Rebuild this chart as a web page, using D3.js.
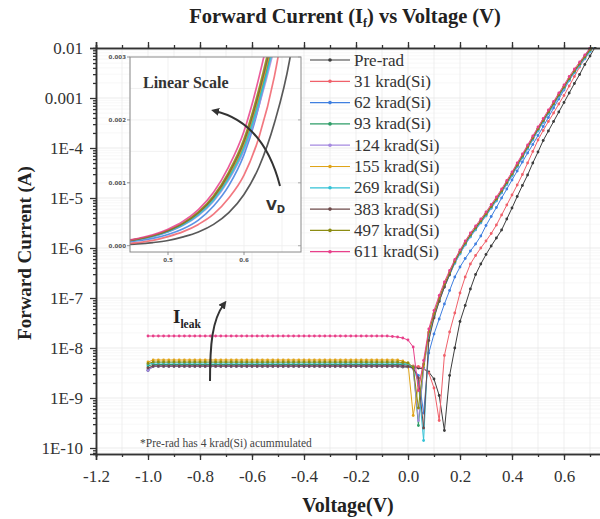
<!DOCTYPE html>
<html>
<head>
<meta charset="utf-8">
<script src="https://cdn.jsdelivr.net/npm/d3@7"></script>
<style>
  body { margin: 0; background: #fff; }
  svg { display: block; font-family: "Liberation Serif", "Times New Roman", serif; }
</style>
</head>
<body>
<div id="chart"></div>
<script>
// bias voltage (V), shared by all curves
const voltage = [
  -1.00,-0.98,-0.96,-0.94,-0.92,-0.90,-0.88,-0.86,-0.84,-0.82,
  -0.80,-0.78,-0.76,-0.74,-0.72,-0.70,-0.68,-0.66,-0.64,-0.62,
  -0.60,-0.58,-0.56,-0.54,-0.52,-0.50,-0.48,-0.46,-0.44,-0.42,
  -0.40,-0.38,-0.36,-0.34,-0.32,-0.30,-0.28,-0.26,-0.24,-0.22,
  -0.20,-0.18,-0.16,-0.14,-0.12,-0.10,-0.08,-0.06,-0.04,-0.02,
  0.00,0.02,0.04,0.06,0.08,0.10,0.12,0.14,0.16,0.18,
  0.20,0.22,0.24,0.26,0.28,0.30,0.32,0.34,0.36,0.38,
  0.40,0.42,0.44,0.46,0.48,0.50,0.52,0.54,0.56,0.58,
  0.60,0.62,0.64,0.66,0.68,0.70,0.72
];

// log10 of |forward current| (A) for each dose
const preRad = [
  -8.45,-8.37,-8.37,-8.37,-8.37,-8.37,-8.37,-8.37,-8.37,-8.37,
  -8.37,-8.37,-8.37,-8.37,-8.37,-8.37,-8.37,-8.37,-8.37,-8.37,
  -8.37,-8.37,-8.37,-8.37,-8.37,-8.37,-8.37,-8.37,-8.37,-8.37,
  -8.37,-8.37,-8.37,-8.37,-8.37,-8.37,-8.37,-8.37,-8.37,-8.37,
  -8.37,-8.37,-8.37,-8.37,-8.37,-8.37,-8.37,-8.37,-8.37,-8.38,
  -8.38,-8.39,-8.40,-8.42,-8.48,-8.62,-8.95,-9.65,-8.55,-8.00,
  -7.47,-7.15,-6.82,-6.53,-6.32,-6.13,-5.96,-5.80,-5.64,-5.42,
  -5.20,-4.97,-4.75,-4.54,-4.30,-4.08,-3.85,-3.66,-3.47,-3.28,
  -3.09,-2.90,-2.71,-2.53,-2.33,-2.16,-1.98
];
const krad31 = [
  -8.40,-8.36,-8.36,-8.36,-8.36,-8.36,-8.36,-8.36,-8.36,-8.36,
  -8.36,-8.36,-8.36,-8.36,-8.36,-8.36,-8.36,-8.36,-8.36,-8.36,
  -8.36,-8.36,-8.36,-8.36,-8.36,-8.36,-8.36,-8.36,-8.36,-8.36,
  -8.36,-8.36,-8.36,-8.36,-8.36,-8.36,-8.36,-8.36,-8.36,-8.36,
  -8.36,-8.36,-8.36,-8.36,-8.36,-8.36,-8.36,-8.36,-8.36,-8.36,
  -8.36,-8.36,-8.37,-8.40,-8.50,-8.80,-9.45,-8.15,-7.68,-7.30,
  -6.90,-6.58,-6.32,-6.15,-6.00,-5.86,-5.71,-5.54,-5.34,-5.14,
  -4.94,-4.74,-4.53,-4.30,-4.07,-3.84,-3.65,-3.47,-3.30,-3.12,
  -2.95,-2.76,-2.57,-2.38,-2.21,-2.04,-1.88
];
const krad62 = [
  -8.44,-8.36,-8.36,-8.36,-8.36,-8.36,-8.36,-8.36,-8.36,-8.36,
  -8.36,-8.36,-8.36,-8.36,-8.36,-8.36,-8.36,-8.36,-8.36,-8.36,
  -8.36,-8.36,-8.36,-8.36,-8.36,-8.36,-8.36,-8.36,-8.36,-8.36,
  -8.36,-8.36,-8.36,-8.36,-8.36,-8.36,-8.36,-8.36,-8.36,-8.36,
  -8.36,-8.36,-8.36,-8.36,-8.36,-8.36,-8.36,-8.36,-8.36,-8.36,
  -8.37,-8.40,-8.55,-9.30,-8.10,-7.72,-7.42,-7.12,-6.85,-6.58,
  -6.38,-6.21,-6.06,-5.92,-5.76,-5.55,-5.37,-5.19,-5.00,-4.82,
  -4.64,-4.46,-4.28,-4.10,-3.93,-3.75,-3.57,-3.39,-3.20,-3.02,
  -2.84,-2.65,-2.47,-2.31,-2.16,-2.00,-1.85
];
const krad93 = [
  -8.36,-8.33,-8.33,-8.33,-8.33,-8.33,-8.33,-8.33,-8.33,-8.33,
  -8.33,-8.33,-8.33,-8.33,-8.33,-8.33,-8.33,-8.33,-8.33,-8.33,
  -8.33,-8.33,-8.33,-8.33,-8.33,-8.33,-8.33,-8.33,-8.33,-8.33,
  -8.33,-8.33,-8.33,-8.33,-8.33,-8.33,-8.33,-8.33,-8.33,-8.33,
  -8.33,-8.33,-8.33,-8.33,-8.33,-8.33,-8.33,-8.33,-8.33,-8.33,
  -8.34,-8.40,-9.55,-8.40,-7.72,-7.35,-7.04,-6.76,-6.52,-6.29,
  -6.10,-5.92,-5.76,-5.62,-5.48,-5.34,-5.19,-5.04,-4.88,-4.71,
  -4.54,-4.36,-4.18,-4.00,-3.82,-3.64,-3.47,-3.30,-3.13,-2.96,
  -2.80,-2.63,-2.48,-2.34,-2.20,-2.06,-1.92
];
const krad124 = [
  -8.45,-8.36,-8.36,-8.36,-8.36,-8.36,-8.36,-8.36,-8.36,-8.36,
  -8.36,-8.36,-8.36,-8.36,-8.36,-8.36,-8.36,-8.36,-8.36,-8.36,
  -8.36,-8.36,-8.36,-8.36,-8.36,-8.36,-8.36,-8.36,-8.36,-8.36,
  -8.36,-8.36,-8.36,-8.36,-8.36,-8.36,-8.36,-8.36,-8.36,-8.36,
  -8.36,-8.36,-8.36,-8.36,-8.36,-8.36,-8.36,-8.36,-8.36,-8.36,
  -8.37,-8.42,-9.45,-8.42,-7.75,-7.37,-7.06,-6.78,-6.54,-6.31,
  -6.12,-5.94,-5.78,-5.64,-5.50,-5.36,-5.21,-5.06,-4.90,-4.73,
  -4.56,-4.38,-4.20,-4.02,-3.84,-3.66,-3.49,-3.32,-3.15,-2.98,
  -2.82,-2.65,-2.50,-2.36,-2.22,-2.08,-1.94
];
const krad155 = [
  -8.28,-8.24,-8.24,-8.24,-8.24,-8.24,-8.24,-8.24,-8.24,-8.24,
  -8.24,-8.24,-8.24,-8.24,-8.24,-8.24,-8.24,-8.24,-8.24,-8.24,
  -8.24,-8.24,-8.24,-8.24,-8.24,-8.24,-8.24,-8.24,-8.24,-8.24,
  -8.24,-8.24,-8.24,-8.24,-8.24,-8.24,-8.24,-8.24,-8.24,-8.24,
  -8.24,-8.24,-8.24,-8.24,-8.24,-8.24,-8.24,-8.24,-8.24,-8.26,
  -8.30,-9.35,-8.75,-8.35,-7.70,-7.33,-7.02,-6.74,-6.51,-6.28,
  -6.09,-5.91,-5.75,-5.61,-5.47,-5.33,-5.18,-5.03,-4.87,-4.70,
  -4.53,-4.35,-4.17,-3.99,-3.81,-3.63,-3.46,-3.29,-3.12,-2.95,
  -2.79,-2.62,-2.47,-2.33,-2.19,-2.05,-1.91
];
const krad269 = [
  -8.33,-8.30,-8.30,-8.30,-8.30,-8.30,-8.30,-8.30,-8.30,-8.30,
  -8.30,-8.30,-8.30,-8.30,-8.30,-8.30,-8.30,-8.30,-8.30,-8.30,
  -8.30,-8.30,-8.30,-8.30,-8.30,-8.30,-8.30,-8.30,-8.30,-8.30,
  -8.30,-8.30,-8.30,-8.30,-8.30,-8.30,-8.30,-8.30,-8.30,-8.30,
  -8.30,-8.30,-8.30,-8.30,-8.30,-8.30,-8.30,-8.30,-8.30,-8.31,
  -8.32,-8.38,-8.70,-9.85,-7.80,-7.38,-7.06,-6.78,-6.54,-6.30,
  -6.11,-5.93,-5.77,-5.63,-5.49,-5.35,-5.20,-5.05,-4.89,-4.72,
  -4.55,-4.37,-4.19,-4.01,-3.83,-3.65,-3.48,-3.31,-3.14,-2.97,
  -2.81,-2.64,-2.49,-2.35,-2.21,-2.07,-1.93
];
const krad383 = [
  -8.40,-8.36,-8.36,-8.36,-8.36,-8.36,-8.36,-8.36,-8.36,-8.36,
  -8.36,-8.36,-8.36,-8.36,-8.36,-8.36,-8.36,-8.36,-8.36,-8.36,
  -8.36,-8.36,-8.36,-8.36,-8.36,-8.36,-8.36,-8.36,-8.36,-8.36,
  -8.36,-8.36,-8.36,-8.36,-8.36,-8.36,-8.36,-8.36,-8.36,-8.36,
  -8.36,-8.36,-8.36,-8.36,-8.36,-8.36,-8.36,-8.36,-8.36,-8.36,
  -8.37,-8.40,-8.60,-9.60,-7.85,-7.40,-7.07,-6.78,-6.53,-6.27,
  -6.08,-5.90,-5.74,-5.60,-5.46,-5.32,-5.17,-5.02,-4.86,-4.69,
  -4.52,-4.34,-4.16,-3.98,-3.80,-3.62,-3.45,-3.28,-3.11,-2.94,
  -2.78,-2.61,-2.46,-2.32,-2.18,-2.04,-1.90
];
const krad497 = [
  -8.31,-8.28,-8.28,-8.28,-8.28,-8.28,-8.28,-8.28,-8.28,-8.28,
  -8.28,-8.28,-8.28,-8.28,-8.28,-8.28,-8.28,-8.28,-8.28,-8.28,
  -8.28,-8.28,-8.28,-8.28,-8.28,-8.28,-8.28,-8.28,-8.28,-8.28,
  -8.28,-8.28,-8.28,-8.28,-8.28,-8.28,-8.28,-8.28,-8.28,-8.28,
  -8.28,-8.28,-8.28,-8.28,-8.28,-8.28,-8.28,-8.28,-8.28,-8.29,
  -8.30,-8.38,-9.20,-8.32,-7.68,-7.31,-7.00,-6.72,-6.49,-6.26,
  -6.07,-5.89,-5.73,-5.59,-5.45,-5.31,-5.16,-5.01,-4.85,-4.68,
  -4.51,-4.33,-4.15,-3.97,-3.79,-3.61,-3.44,-3.27,-3.10,-2.93,
  -2.77,-2.60,-2.45,-2.31,-2.17,-2.03,-1.89
];
const krad611 = [
  -7.76,-7.76,-7.76,-7.76,-7.76,-7.76,-7.76,-7.76,-7.76,-7.76,
  -7.76,-7.76,-7.76,-7.76,-7.76,-7.76,-7.76,-7.76,-7.76,-7.76,
  -7.76,-7.76,-7.76,-7.76,-7.76,-7.76,-7.76,-7.76,-7.76,-7.76,
  -7.76,-7.76,-7.76,-7.76,-7.76,-7.76,-7.76,-7.76,-7.76,-7.76,
  -7.76,-7.76,-7.76,-7.76,-7.76,-7.76,-7.76,-7.77,-7.78,-7.80,
  -7.84,-7.98,-8.85,-8.25,-7.62,-7.25,-6.95,-6.68,-6.45,-6.23,
  -6.04,-5.86,-5.70,-5.56,-5.42,-5.28,-5.13,-4.98,-4.82,-4.65,
  -4.48,-4.30,-4.12,-3.94,-3.76,-3.58,-3.41,-3.24,-3.07,-2.90,
  -2.74,-2.57,-2.42,-2.28,-2.14,-2.00,-1.86
];

const seriesNames = ["Pre-rad", "31 krad(Si)", "62 krad(Si)", "93 krad(Si)", "124 krad(Si)",
  "155 krad(Si)", "269 krad(Si)", "383 krad(Si)", "497 krad(Si)", "611 krad(Si)"];
const seriesValues = [preRad, krad31, krad62, krad93, krad124, krad155, krad269, krad383, krad497, krad611];
const seriesColors = ["#3c3c3c", "#f0606a", "#3f7fe0", "#2e9e68", "#a58ae0",
  "#e0a418", "#33c2d6", "#6e4b4b", "#8c8c12", "#e8408a"];

const xTicks = [-1.2, -1.0, -0.8, -0.6, -0.4, -0.2, 0.0, 0.2, 0.4, 0.6];
const xTickLabels = ["-1.2", "-1.0", "-0.8", "-0.6", "-0.4", "-0.2", "0.0", "0.2", "0.4", "0.6"];
const yTicks = [1e-2, 1e-3, 1e-4, 1e-5, 1e-6, 1e-7, 1e-8, 1e-9, 1e-10];
const yTickLabels = ["0.01", "0.001", "1E-4", "1E-5", "1E-6", "1E-7", "1E-8", "1E-9", "1E-10"];

const insetXTicks = [0.5, 0.6];
const insetXTickLabels = ["0.5", "0.6"];
const insetYTicks = [0, 0.001, 0.002, 0.003];
const insetYTickLabels = ["0.000", "0.001", "0.002", "0.003"];

const SERIF = "Liberation Serif, Times New Roman, serif";
const W = 600, H = 519;
const svg = d3.select("#chart").append("svg").attr("width", W).attr("height", H);

const pL = 96, pR = 616, pT = 48, pB = 454;
const x = d3.scaleLinear().domain([-1.2, 0.8]).range([pL, pR]);
const y = d3.scaleLog().domain([Math.pow(10, -10.12), 0.01]).range([pB, pT]);

const series = seriesValues.map((vals, i) => ({
  name: seriesNames[i],
  color: seriesColors[i],
  points: vals.map((lv, k) => ({ v: voltage[k], i: Math.pow(10, lv) }))
}));

// clip
const defs = svg.append("defs");
defs.append("clipPath").attr("id", "plotClip").append("rect")
  .attr("x", pL).attr("y", pT - 1).attr("width", pR - pL).attr("height", pB - pT + 1);

// grid
const xMinor = d3.range(-1.2, 0.801, 0.1);
const yMinor = [];
for (let e = -11; e <= -3; e++) for (let m = 2; m <= 9; m++) {
  const val = m * Math.pow(10, e);
  if (val > y.domain()[0] && val < 0.01) yMinor.push(val);
}
const grid = svg.append("g");
grid.selectAll(".gyminor").data(yMinor).join("line")
  .attr("x1", pL).attr("x2", pR).attr("y1", d => y(d)).attr("y2", d => y(d))
  .attr("stroke", "#f3f3f3").attr("stroke-width", 0.7);
grid.selectAll(".gx").data(xMinor).join("line")
  .attr("y1", pT).attr("y2", pB).attr("x1", d => x(d)).attr("x2", d => x(d))
  .attr("stroke", "#ebebeb").attr("stroke-width", 0.8);
grid.selectAll(".gy").data(yTicks).join("line")
  .attr("x1", pL).attr("x2", pR).attr("y1", d => y(d)).attr("y2", d => y(d))
  .attr("stroke", "#e6e6e6").attr("stroke-width", 0.8);

// curves with markers
const line = d3.line().x(d => x(d.v)).y(d => y(d.i));
const plot = svg.append("g").attr("clip-path", "url(#plotClip)");
series.forEach(s => {
  plot.append("path").datum(s.points)
    .attr("fill", "none").attr("stroke", s.color).attr("stroke-width", 1)
    .attr("d", line);
  plot.append("g").selectAll("circle").data(s.points).join("circle")
    .attr("cx", d => x(d.v)).attr("cy", d => y(d.i)).attr("r", 1.4)
    .attr("fill", s.color);
});

// axes
function styleAxis(g) {
  g.attr("font-family", SERIF);
  g.select(".domain").attr("stroke", "#333").attr("stroke-width", 1.5);
  g.selectAll(".tick line").attr("stroke", "#333").attr("stroke-width", 1.3);
  g.selectAll(".tick text").attr("fill", "#333").attr("font-size", 17).attr("font-family", SERIF);
}
svg.append("g").attr("transform", `translate(0,${pB})`)
  .call(d3.axisBottom(x).tickValues(xTicks).tickFormat((d, i) => xTickLabels[i]).tickSize(6).tickPadding(10))
  .call(styleAxis);
svg.append("g").attr("transform", `translate(0,${pB})`)
  .call(d3.axisBottom(x).tickValues(xMinor).tickFormat("").tickSize(3))
  .call(styleAxis);
svg.append("g").attr("transform", `translate(0,${pT})`)
  .call(d3.axisTop(x).tickValues(xTicks).tickFormat("").tickSize(6))
  .call(styleAxis);
svg.append("g").attr("transform", `translate(0,${pT})`)
  .call(d3.axisTop(x).tickValues(xMinor).tickFormat("").tickSize(3))
  .call(styleAxis);
svg.append("g").attr("transform", `translate(${pL},0)`)
  .call(d3.axisLeft(y).tickValues(yTicks).tickFormat((d, i) => yTickLabels[i]).tickSize(6).tickPadding(7))
  .call(styleAxis);
svg.append("g").attr("transform", `translate(${pL},0)`)
  .call(d3.axisLeft(y).tickValues(yMinor).tickFormat("").tickSize(3))
  .call(styleAxis);

// inset, linear scale
const iL = 130, iR = 301, iT = 57, iB = 252;
const xi = d3.scaleLinear().domain([0.45, 0.675]).range([iL, iR]);
const yi = d3.scaleLinear().domain([-0.0001, 0.003]).range([iB, iT]);
const inset = svg.append("g");
inset.append("rect").attr("x", iL).attr("y", iT).attr("width", iR - iL).attr("height", iB - iT)
  .attr("fill", "#fff");
defs.append("clipPath").attr("id", "insetClip").append("rect")
  .attr("x", iL).attr("y", iT).attr("width", iR - iL).attr("height", iB - iT);
const insetGridX = [0.45, 0.5, 0.55, 0.6, 0.65];
const insetGridY = [0, 0.0005, 0.001, 0.0015, 0.002, 0.0025];
inset.selectAll(".igx").data(insetGridX).join("line")
  .attr("x1", d => xi(d)).attr("x2", d => xi(d)).attr("y1", iT).attr("y2", iB)
  .attr("stroke", "#eeeeee").attr("stroke-width", 0.8);
inset.selectAll(".igy").data(insetGridY).join("line")
  .attr("y1", d => yi(d)).attr("y2", d => yi(d)).attr("x1", iL).attr("x2", iR)
  .attr("stroke", "#eeeeee").attr("stroke-width", 0.8);
const iline = d3.line().curve(d3.curveMonotoneX).x(d => xi(d.v)).y(d => yi(d.i));
const insetCurves = inset.append("g").attr("clip-path", "url(#insetClip)");
series.forEach(s => {
  insetCurves.append("path").datum(s.points.filter(d => d.v >= 0.42))
    .attr("fill", "none").attr("stroke", s.color).attr("stroke-width", 1.7).attr("stroke-opacity", 0.85)
    .attr("d", iline);
});
inset.append("rect").attr("x", iL).attr("y", iT).attr("width", iR - iL).attr("height", iB - iT)
  .attr("fill", "none").attr("stroke", "#8a8a8a").attr("stroke-width", 1);
const iax = inset.append("g").attr("font-family", "DejaVu Sans, sans-serif").attr("fill", "#555");
iax.selectAll(".iyt").data(insetYTicks).join("line")
  .attr("x1", iL - 3).attr("x2", iL).attr("y1", d => yi(d)).attr("y2", d => yi(d))
  .attr("stroke", "#777").attr("stroke-width", 0.8);
iax.selectAll(".iytr").data(insetYTicks).join("line")
  .attr("x1", iR - 3).attr("x2", iR).attr("y1", d => yi(d)).attr("y2", d => yi(d))
  .attr("stroke", "#999").attr("stroke-width", 0.8);
iax.selectAll(".iyl").data(insetYTicks).join("text")
  .attr("x", iL - 4).attr("y", d => yi(d) + 2).attr("text-anchor", "end")
  .attr("font-size", 5.5).attr("font-weight", "bold").text((d, i) => insetYTickLabels[i]);
iax.selectAll(".ixt").data(insetXTicks).join("line")
  .attr("x1", d => xi(d)).attr("x2", d => xi(d)).attr("y1", iB).attr("y2", iB + 3)
  .attr("stroke", "#777").attr("stroke-width", 0.8);
iax.selectAll(".ixl").data(insetXTicks).join("text")
  .attr("x", d => xi(d)).attr("y", iB + 10).attr("text-anchor", "middle")
  .attr("font-size", 5.5).attr("font-weight", "bold").text((d, i) => insetXTickLabels[i]);

inset.append("text").attr("x", 143).attr("y", 88).attr("font-family", SERIF)
  .attr("font-size", 16).attr("font-weight", "bold").attr("fill", "#333").text("Linear Scale");

// arrows
defs.append("marker").attr("id", "arrow").attr("viewBox", "0 0 10 10")
  .attr("refX", 5).attr("refY", 5).attr("markerWidth", 4).attr("markerHeight", 4)
  .attr("orient", "auto-start-reverse")
  .append("path").attr("d", "M0,0 L10,5 L0,10 z").attr("fill", "#333");
svg.append("path").attr("d", "M280,186 Q263.5,122.5 215,111")
  .attr("fill", "none").attr("stroke", "#333").attr("stroke-width", 2).attr("marker-end", "url(#arrow)");
const vd = svg.append("text").attr("x", 266).attr("y", 210).attr("font-family", "DejaVu Sans, sans-serif")
  .attr("font-weight", "bold").attr("fill", "#333").attr("font-size", 14);
vd.append("tspan").text("V");
vd.append("tspan").attr("dy", 3).attr("font-size", 10).text("D");

svg.append("path").attr("d", "M210,381 C210,345 212,320 224,304")
  .attr("fill", "none").attr("stroke", "#333").attr("stroke-width", 2).attr("marker-end", "url(#arrow)");
const il = svg.append("text").attr("x", 173).attr("y", 323).attr("font-family", SERIF)
  .attr("font-weight", "bold").attr("fill", "#222").attr("font-size", 19);
il.append("tspan").text("I");
il.append("tspan").attr("dy", 5).attr("font-size", 11.5).text("leak");

svg.append("text").attr("x", 140).attr("y", 447).attr("font-family", SERIF)
  .attr("font-size", 11.5).attr("fill", "#444").text("*Pre-rad has 4 krad(Si) acummulated");

// legend
const legend = svg.append("g").attr("font-family", SERIF);
series.forEach((s, i) => {
  const ly = 60 + i * 21.3;
  legend.append("line").attr("x1", 310).attr("x2", 350).attr("y1", ly).attr("y2", ly)
    .attr("stroke", s.color).attr("stroke-width", 1.2);
  legend.append("circle").attr("cx", 330).attr("cy", ly).attr("r", 1.8).attr("fill", s.color);
  legend.append("text").attr("x", 354).attr("y", ly + 5.5).attr("font-size", 17)
    .attr("fill", "#333").text(s.name);
});

// titles
const title = svg.append("text").attr("x", 345).attr("y", 23).attr("text-anchor", "middle")
  .attr("font-family", SERIF).attr("font-size", 20.5).attr("font-weight", "bold").attr("fill", "#222");
title.append("tspan").text("Forward Current (I");
title.append("tspan").attr("dy", 4).attr("font-size", 12).text("f");
title.append("tspan").attr("dy", -4).text(") vs Voltage (V)");

svg.append("text").attr("transform", "translate(31,253) rotate(-90)").attr("text-anchor", "middle")
  .attr("font-family", SERIF).attr("font-size", 19).attr("font-weight", "bold").attr("fill", "#222")
  .text("Forward Current (A)");
svg.append("text").attr("x", 348).attr("y", 512).attr("text-anchor", "middle")
  .attr("font-family", SERIF).attr("font-size", 20).attr("font-weight", "bold").attr("fill", "#222")
  .text("Voltage(V)");
</script>
</body>
</html>
